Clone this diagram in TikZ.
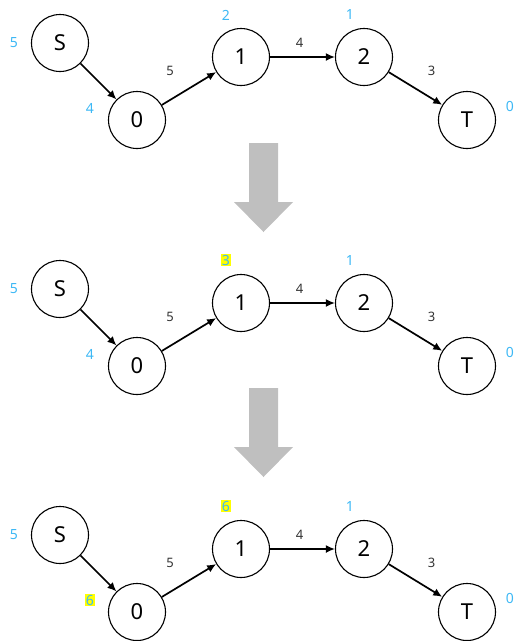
\documentclass[tikz,border=0pt]{standalone}
\usepackage{fontspec}
\setmainfont{Noto Sans}
\usetikzlibrary{arrows.meta}
\definecolor{distblue}{HTML}{3DB8F5}
\definecolor{hilite}{HTML}{FFFF00}
\definecolor{bigarrow}{HTML}{BFBFBF}

\begin{document}
\begin{tikzpicture}[
      x=1pt, y=-1pt,
      vertex/.style={draw, circle, line width=1.1pt, minimum size=57pt, inner sep=0pt, font=\fontsize{22}{22}\selectfont},
      dist/.style={text=distblue, font=\fontsize{14}{14}\selectfont, inner sep=1pt},
      newdist/.style={dist, fill=hilite},
      weight/.style={font=\fontsize{13}{13}\selectfont, text=black!80, inner sep=1pt},
      arr/.style={-{Latex[length=9pt, width=8pt]}, line width=1.7pt},
      down/.style={fill=bigarrow, draw=none}
  ]
    \useasboundingbox (0,0) rectangle (525,641);

    % row 1
    \node[vertex] (s1) at (60,43) {S};
    \node[vertex] (z1) at (137,120) {0};
    \node[vertex] (o1) at (241,57) {1};
    \node[vertex] (t1) at (364,57) {2};
    \node[vertex] (e1) at (467,120) {T};
    \node[dist] (ds1) at (14,43) {5};
    \node[dist] (dz1) at (90,108) {4};
    \node[dist] (do1) at (226,15) {2};
    \node[dist] (dt1) at (350,14) {1};
    \node[dist] (de1) at (510,106) {0};
    \draw[arr] (s1) -- (z1);
    \draw[arr] (z1) -- node[weight, xshift=-19pt, yshift=18pt] (wa1) {5} (o1);
    \draw[arr] (o1) -- node[weight, xshift=-3pt, yshift=14pt] (wb1) {4} (t1);
    \draw[arr] (t1) -- node[weight, xshift=16pt, yshift=18pt] (wc1) {3} (e1);

    \fill[down] (249,143) -- (278,143) -- (278,202) -- (293,202) -- (263.5,232) -- (234,202) -- (249,202) -- cycle;

    % row 2
    \node[vertex] (s2) at (60,289) {S};
    \node[vertex] (z2) at (137,366) {0};
    \node[vertex] (o2) at (241,303) {1};
    \node[vertex] (t2) at (364,303) {2};
    \node[vertex] (e2) at (467,366) {T};
    \node[dist] (ds2) at (14,289) {5};
    \node[dist] (dz2) at (90,354) {4};
    \node[newdist] (do2) at (226,260) {3};
    \node[dist] (dt2) at (350,260) {1};
    \node[dist] (de2) at (510,352) {0};
    \draw[arr] (s2) -- (z2);
    \draw[arr] (z2) -- node[weight, xshift=-19pt, yshift=18pt] (wa2) {5} (o2);
    \draw[arr] (o2) -- node[weight, xshift=-3pt, yshift=14pt] (wb2) {4} (t2);
    \draw[arr] (t2) -- node[weight, xshift=16pt, yshift=18pt] (wc2) {3} (e2);

    \fill[down] (249,388) -- (278,388) -- (278,447) -- (293,447) -- (263.5,477) -- (234,447) -- (249,447) -- cycle;

    % row 3
    \node[vertex] (s3) at (60,535) {S};
    \node[vertex] (z3) at (137,612) {0};
    \node[vertex] (o3) at (241,549) {1};
    \node[vertex] (t3) at (364,549) {2};
    \node[vertex] (e3) at (467,612) {T};
    \node[dist] (ds3) at (14,535) {5};
    \node[newdist] (dz3) at (90,600) {6};
    \node[newdist] (do3) at (226,506) {6};
    \node[dist] (dt3) at (350,506) {1};
    \node[dist] (de3) at (510,598) {0};
    \draw[arr] (s3) -- (z3);
    \draw[arr] (z3) -- node[weight, xshift=-19pt, yshift=18pt] (wa3) {5} (o3);
    \draw[arr] (o3) -- node[weight, xshift=-3pt, yshift=14pt] (wb3) {4} (t3);
    \draw[arr] (t3) -- node[weight, xshift=16pt, yshift=18pt] (wc3) {3} (e3);
\end{tikzpicture}
\end{document}
